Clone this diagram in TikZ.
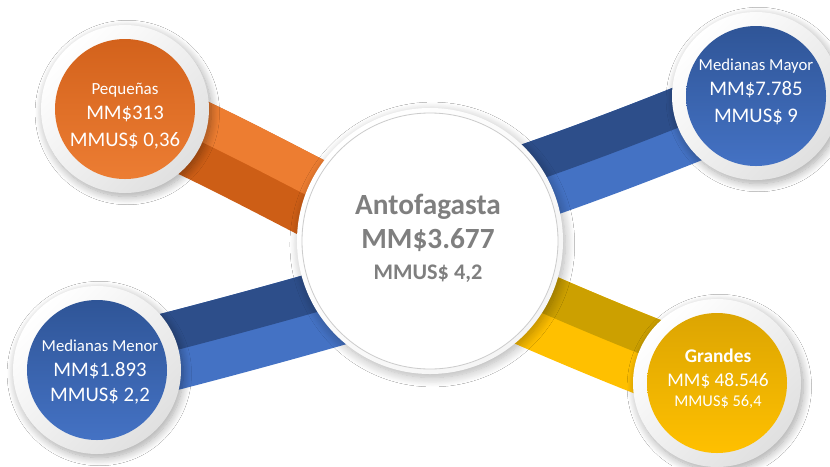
\documentclass[tikz,border=0pt]{standalone}
\usepackage{fontspec}
\setmainfont{Carlito}
\usetikzlibrary{shadows.blur}
\definecolor{oL}{HTML}{ED7D31}
\definecolor{oD}{HTML}{CD5E16}
\definecolor{oT}{HTML}{D3621C}
\definecolor{oB}{HTML}{EC7D33}
\definecolor{bD}{HTML}{2D4E8A}
\definecolor{bL}{HTML}{4472C4}
\definecolor{bT}{HTML}{2F5597}
\definecolor{yD}{HTML}{CCA000}
\definecolor{yL}{HTML}{FFC000}
\definecolor{yT}{HTML}{DCA502}
\definecolor{cgray}{HTML}{7F7F7F}
\definecolor{rimg}{HTML}{E0E0E0}
\tikzset{
  band/.style={line width=66.6pt, line cap=butt},
  halfband/.style={line width=33.4pt, line cap=butt},
  rimc/.style={circle, minimum size=5.04cm, inner sep=0pt, top color=white, bottom color=rimg, shading angle=45,
    blur shadow={shadow blur steps=12, shadow xshift=2pt, shadow yshift=-3pt, shadow opacity=35, shadow blur radius=7pt}},
  innc/.style={circle, minimum size=4.2cm, inner sep=0pt, shading angle=45},
  ctrrim/.style={circle, minimum size=7.98cm, inner sep=0pt, top color=white, bottom color=black!4, shading angle=45,
    blur shadow={shadow blur steps=12, shadow xshift=2pt, shadow yshift=-3pt, shadow opacity=30, shadow blur radius=8pt}},
  ctrc/.style={circle, minimum size=7.68cm, inner sep=0pt, fill=white, draw=black!20, line width=0.7pt},
  wtxt/.style={anchor=base, text=white, inner sep=0pt},
  ctxt/.style={anchor=base, text=cgray, inner sep=0pt}
}
\begin{document}
\begin{tikzpicture}[x=0.03cm, y=-0.03cm]
\fill[white] (0,0) rectangle (830,466);
\useasboundingbox (0,0) rectangle (830,466);
% centres
\coordinate (cctr) at (430,241);
\coordinate (cpq) at (125,109);
\coordinate (cmy) at (756,96);
\coordinate (cmn) at (97,370);
\coordinate (cgr) at (717,383);
% band ends inside the big circle
\coordinate (eo) at (420,252);
\coordinate (eb) at (440,212);
\coordinate (el) at (420,282);
\coordinate (ey) at (440,268);
% bands
\draw[band, oD] (cpq) .. controls (200,135) and (320,205) .. (eo);
\begin{scope}[transform canvas={shift={(8.4,-17.6)}}]
\draw[halfband, oL] (cpq) .. controls (200,135) and (320,205) .. (eo);
\end{scope}
\draw[band, bL] (eb) .. controls (540,182) and (650,140) .. (cmy);
\begin{scope}[transform canvas={shift={(-7.2,-18.1)}}]
\draw[halfband, bD] (eb) .. controls (540,182) and (650,140) .. (cmy);
\end{scope}
\draw[band, bL] (cmn) .. controls (200,345) and (320,312) .. (el);
\begin{scope}[transform canvas={shift={(-5.2,-18.8)}}]
\draw[halfband, bD] (cmn) .. controls (200,345) and (320,312) .. (el);
\end{scope}
\draw[band, yL] (ey) .. controls (530,308) and (620,348) .. (cgr);
\begin{scope}[transform canvas={shift={(7.9,-17.8)}}]
\draw[halfband, yD] (ey) .. controls (530,308) and (620,348) .. (cgr);
\end{scope}
% circles
\node[rimc] (pq) at (cpq) {};
\node[innc, top color=oT, bottom color=oB] (pqi) at (cpq) {};
\node[rimc] (my) at (cmy) {};
\node[innc, top color=bT, bottom color=bL] (myi) at (cmy) {};
\node[rimc] (mn) at (cmn) {};
\node[innc, top color=bT, bottom color=bL] (mni) at (cmn) {};
\node[rimc] (gr) at (cgr) {};
\node[innc, top color=yT, bottom color=yL] (gri) at (cgr) {};
\node[ctrrim] (ctro) at (cctr) {};
\node[ctrc] (ctr) at (cctr) {};
% texts
\node[ctxt, font=\bfseries\fontsize{25}{30}\selectfont] (t1) at (428,214) {Antofagasta};
\node[ctxt, font=\bfseries\fontsize{25}{30}\selectfont] (t2) at (428,248) {MM\$3.677};
\node[ctxt, font=\bfseries\fontsize{19}{23}\selectfont] (t3) at (428,279) {MMUS\$ 4,2};
\node[wtxt, font=\fontsize{14.5}{17}\selectfont] (p1) at (125,94) {Pequeñas};
\node[wtxt, font=\fontsize{17.7}{21}\selectfont] (p2) at (125,119) {MM\$313};
\node[wtxt, font=\fontsize{17.7}{21}\selectfont] (p3) at (125,146) {MMUS\$ 0,36};
\node[wtxt, font=\fontsize{14.3}{17}\selectfont] (y1) at (756,70) {Medianas Mayor};
\node[wtxt, font=\fontsize{17.7}{21}\selectfont] (y2) at (756,95) {MM\$7.785};
\node[wtxt, font=\fontsize{17.7}{21}\selectfont] (y3) at (756,122) {MMUS\$ 9};
\node[wtxt, font=\fontsize{14.3}{17}\selectfont] (n1) at (100,351) {Medianas Menor};
\node[wtxt, font=\fontsize{17.7}{21}\selectfont] (n2) at (100,376) {MM\$1.893};
\node[wtxt, font=\fontsize{17.7}{21}\selectfont] (n3) at (100,401) {MMUS\$ 2,2};
\node[wtxt, font=\bfseries\fontsize{16.5}{20}\selectfont] (g1) at (718,362) {Grandes};
\node[wtxt, font=\fontsize{16.5}{20}\selectfont] (g2) at (718,386) {MM\$ 48.546};
\node[wtxt, font=\fontsize{14}{17}\selectfont] (g3) at (718,406) {MMUS\$ 56,4};
\end{tikzpicture}
\end{document}
